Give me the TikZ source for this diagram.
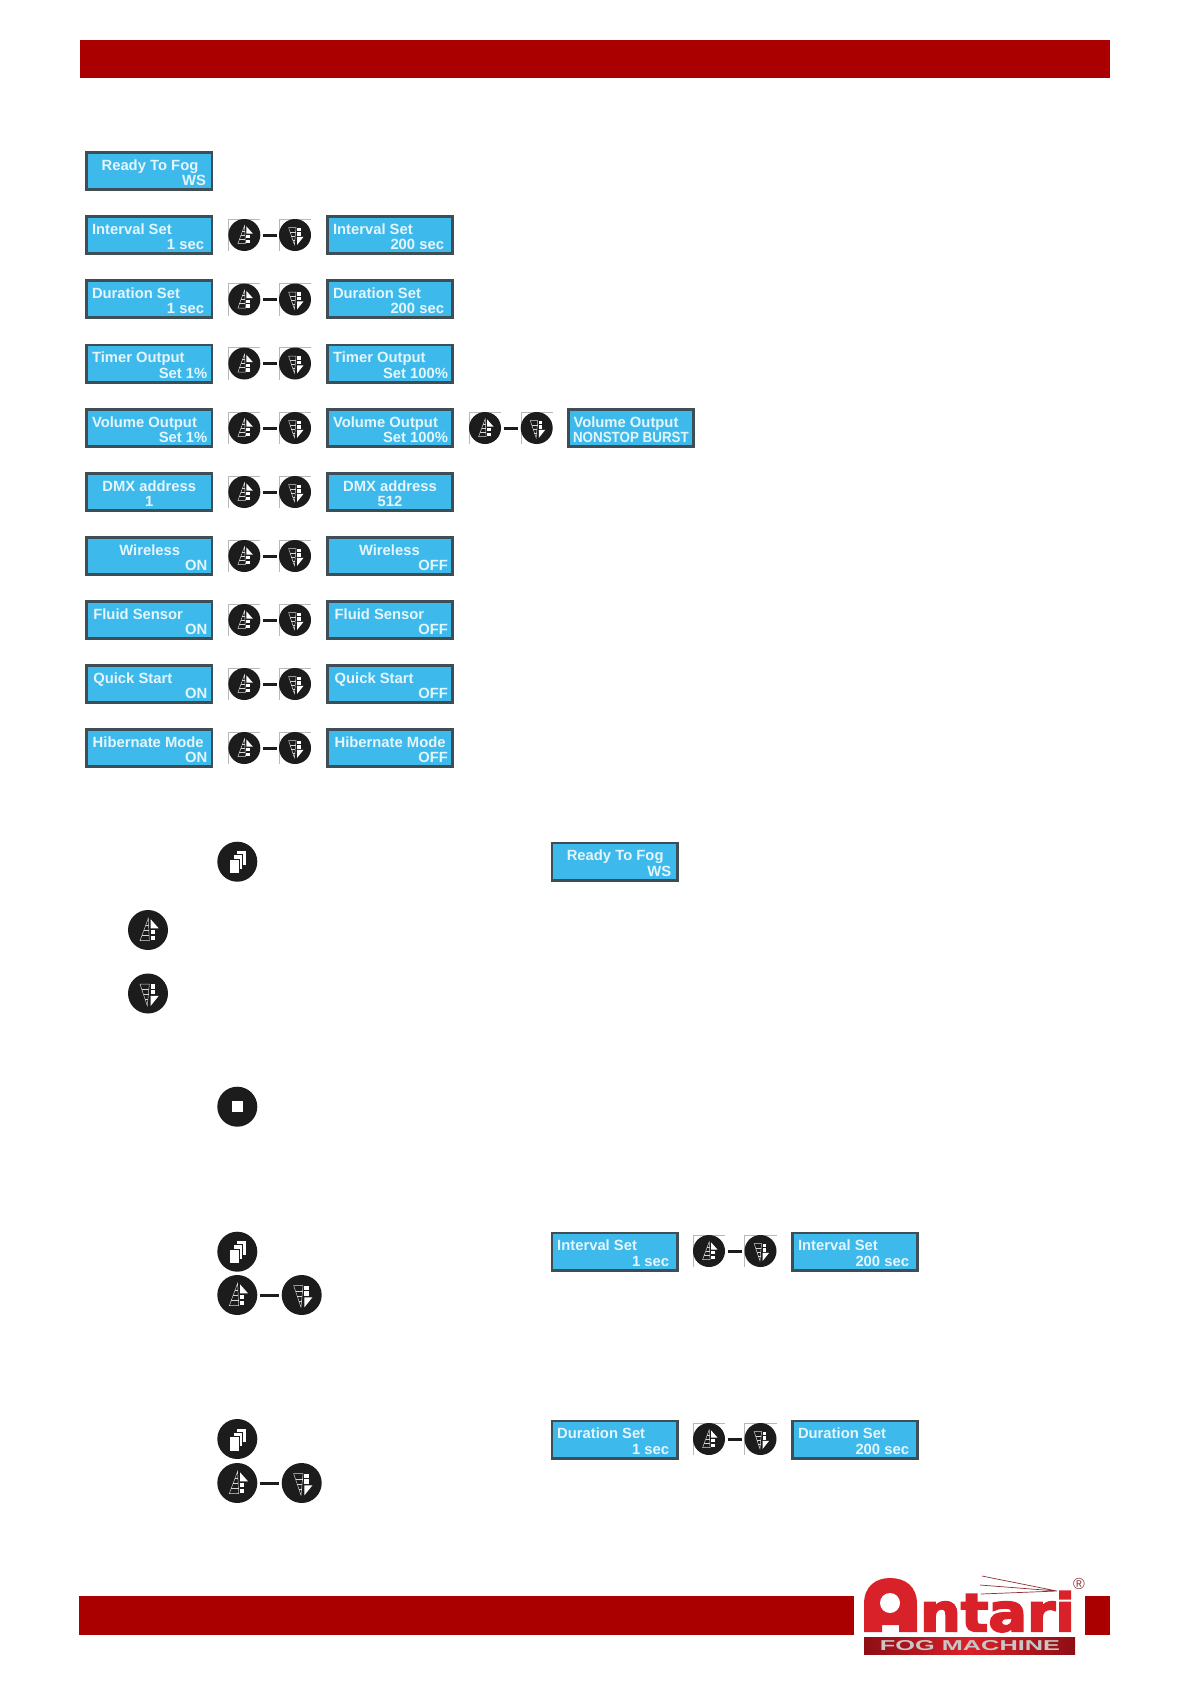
\documentclass[tikz,border=0pt]{standalone}
\usepackage{fontspec}
\setmainfont{Liberation Sans}
\newfontfamily\logofont[FakeBold=3.5]{DejaVu Sans}
\usetikzlibrary{calc}
\definecolor{barred}{HTML}{AA0000}
\definecolor{lcdblue}{HTML}{3DB9EC}
\definecolor{lcdedge}{HTML}{3F4D55}
\definecolor{lcdink}{HTML}{E4F5FC}
\definecolor{btnblack}{HTML}{1C1C1C}
\definecolor{logored}{HTML}{D9212A}
\definecolor{logodark}{HTML}{8E0D14}
\tikzset{
  lcdbox/.style={draw=lcdedge,fill=lcdblue,line width=2.6pt,minimum width=125.4pt,minimum height=37.4pt,inner sep=0pt,outer sep=1.3pt},
  lcdtxt/.style={inner sep=0pt,outer sep=0pt,text=lcdink,font=\fontsize{14.8}{15}\selectfont\bfseries},
  btn/.style={circle,fill=btnblack,inner sep=0pt,outer sep=0pt},
  ladder/.style={draw=white!85!black,line width=0.45pt},
  iconfill/.style={fill=white,draw=none},
  dashlink/.style={btnblack,line width=3pt,shorten <=2.5pt,shorten >=2.5pt},
  framelines/.style={draw=black!28,line width=0.4pt},
  sheet/.style={fill=white,draw=btnblack,line width=0.5pt},
}
% name, x, top, anchor1, offset1, text1, anchor2, offset2, text2
\newcommand{\lcd}[9]{%
  \node[lcdbox] (#1) at (#2+64,#3+20) {};
  \node[lcdtxt,anchor=#4] (#1a) at ([xshift=#5pt,yshift=-19pt]#1.north west) {#6};
  \node[lcdtxt,anchor=#7] (#1b) at ([xshift=#8pt,yshift=-34.6pt]#1.north west) {#9};
}
% name, x, y, radius
\newcommand{\upbtn}[4]{%
  \node[btn,minimum size=#4*2pt] (#1) at (#2,#3) {};
  \begin{scope}[shift={(#2,#3)},scale=#4/20]
    \draw[ladder] (0.3,-11.7) -- (-8,10.7) -- (1.3,10.7) -- cycle;
    \draw[ladder] (-2.4,-5) -- (0.8,-5) (-4.2,0) -- (1,0) (-6.2,5) -- (1.2,5);
    \fill[iconfill] (2.7,-10.7) -- (10.7,-1.7) -- (2.7,-1.7) -- cycle;
    \fill[iconfill] (2.7,0) rectangle (7,4.3);
    \fill[iconfill] (2.7,5.7) rectangle (7,10.3);
  \end{scope}
}
\newcommand{\downbtn}[4]{%
  \node[btn,minimum size=#4*2pt] (#1) at (#2,#3) {};
  \begin{scope}[shift={(#2,#3)},scale=#4/20]
    \draw[ladder] (-0.7,12.3) -- (-8,-9.3) -- (1.3,-9.3) -- cycle;
    \draw[ladder] (-6.2,-4) -- (1,-4) (-4.4,1) -- (0.6,1) (-2.8,6) -- (0.1,6);
    \fill[iconfill] (2.7,2.3) -- (10.7,2.3) -- (2.7,12.3) -- cycle;
    \fill[iconfill] (2.7,-9.3) rectangle (7,-4.7);
    \fill[iconfill] (2.7,-3.7) rectangle (7,0.7);
  \end{scope}
}
\newcommand{\docbtn}[3]{%
  \node[btn,minimum size=40pt] (#1) at (#2,#3) {};
  \begin{scope}[shift={(#2,#3)}]
    \draw[sheet] (-0.7,-11) rectangle (9,3.3);
    \draw[sheet] (-4.2,-7) rectangle (5.4,7.7);
    \draw[sheet] (-8.2,-2.8) rectangle (1.6,12);
  \end{scope}
}
\newcommand{\stopbtn}[3]{%
  \node[btn,minimum size=40pt] (#1) at (#2,#3) {};
  \fill[iconfill] (#2-5.5,#3-5.5) rectangle (#2+5.5,#3+5.5);
}
% small pair: name, x1, x2, y
\newcommand{\pair}[4]{%
  \draw[framelines] (#2-16,#4+16) -- (#2-16,#4-16) -- (#2+16,#4-16);
  \draw[framelines] (#3-16,#4+16) -- (#3-16,#4-16) -- (#3+16,#4-16);
  \upbtn{#1u}{#2}{#4}{16}
  \downbtn{#1d}{#3}{#4}{16}
  \draw[dashlink] (#1u) -- (#1d);
}
\begin{document}
\begin{tikzpicture}[x=1pt,y=-1pt]
\useasboundingbox[fill=white] (0,0) rectangle (1190,1684);
% bars
\fill[barred] (79.5,39.5) rectangle (1110,78);
\fill[barred] (78.5,1596) rectangle (854,1635);
\fill[barred] (1085,1596) rectangle (1110,1635);

% menu rows
\lcd{r1}{85.3}{151}{base west}{16.3}{Ready To Fog}{base east}{120.7}{WS}

\lcd{r2}{85.3}{215}{base west}{6.7}{Interval Set}{base east}{118.7}{1 sec}
\pair{p2}{244.3}{295}{235}
\lcd{s2}{326}{215}{base west}{7}{Interval Set}{base east}{118}{200 sec}

\lcd{r3}{85.3}{279}{base west}{6.7}{Duration Set}{base east}{118.7}{1 sec}
\pair{p3}{244.3}{295}{299.5}
\lcd{s3}{326}{279}{base west}{7}{Duration Set}{base east}{118}{200 sec}

\lcd{r4}{85.3}{343.5}{base west}{6.7}{Timer Output}{base east}{122}{Set 1\%}
\pair{p4}{244.3}{295}{363.5}
\lcd{s4}{326}{343.5}{base west}{7}{Timer Output}{base east}{122}{Set 100\%}

\lcd{r5}{85.3}{408}{base west}{6.7}{Volume Output}{base east}{122}{Set 1\%}
\pair{p5}{244.3}{295}{428}
\lcd{s5}{326}{408}{base west}{7}{Volume Output}{base east}{122}{Set 100\%}
\pair{q5}{485}{536.7}{428}
\lcd{t5}{567}{408}{base west}{6.5}{Volume Output}{base west}{6}{\scalebox{0.905}[1]{NONSTOP BURST}}

\lcd{r6}{85.3}{472}{base}{64}{DMX address}{base}{64}{1}
\pair{p6}{244.3}{295}{492}
\lcd{s6}{326}{472}{base}{64}{DMX address}{base}{64}{512}

\lcd{r7}{85.3}{536}{base west}{34}{Wireless}{base east}{122}{ON}
\pair{p7}{244.3}{295}{556}
\lcd{s7}{326}{536}{base west}{33}{Wireless}{base east}{122}{OFF}

\lcd{r8}{85.3}{600}{base west}{8}{Fluid Sensor}{base east}{122}{ON}
\pair{p8}{244.3}{295}{620}
\lcd{s8}{326}{600}{base west}{8.6}{Fluid Sensor}{base east}{122}{OFF}

\lcd{r9}{85.3}{664}{base west}{8}{Quick Start}{base east}{122}{ON}
\pair{p9}{244.3}{295}{684}
\lcd{s9}{326}{664}{base west}{8.6}{Quick Start}{base east}{122}{OFF}

\lcd{r10}{85.3}{728}{base west}{7.4}{Hibernate Mode}{base east}{122}{ON}
\pair{p10}{244.3}{295}{748}
\lcd{s10}{326}{728}{base west}{8.6}{Hibernate Mode}{base east}{122}{OFF}

% explanations
\docbtn{ka}{237.3}{861.7}
\lcd{la}{550.5}{841.5}{base west}{16.3}{Ready To Fog}{base east}{120.7}{WS}
\upbtn{kb}{148}{930}{20}
\downbtn{kc}{148}{993.5}{20}
\stopbtn{kd}{237.3}{1106.7}

\docbtn{ke}{237.3}{1251.7}
\upbtn{kfu}{237.3}{1295}{20}
\downbtn{kfd}{301.7}{1295}{20}
\draw[dashlink] (kfu) -- (kfd);
\lcd{lb}{550.5}{1231.5}{base west}{6.7}{Interval Set}{base east}{118.7}{1 sec}
\pair{pb}{709}{760.5}{1251}
\lcd{lc}{791}{1231.5}{base west}{7}{Interval Set}{base east}{118}{200 sec}

\docbtn{kg}{237.3}{1439}
\upbtn{khu}{237.3}{1483}{20}
\downbtn{khd}{301.7}{1483}{20}
\draw[dashlink] (khu) -- (khd);
\lcd{ld}{550.5}{1419.5}{base west}{6.7}{Duration Set}{base east}{118.7}{1 sec}
\pair{pd}{709}{760.5}{1439}
\lcd{le}{791}{1419.5}{base west}{7}{Duration Set}{base east}{118}{200 sec}

% logo
\draw[logodark!70!gray,line width=0.7pt] (1057,1591) -- (982,1576) (1057,1591) -- (980,1585) (1057,1591) -- (981,1594);
\fill[logored] (864,1632) -- (864,1604) .. controls (864,1586) and (876,1578) .. (890,1578)
  .. controls (905,1578) and (917,1586) .. (917,1604) -- (917,1632) -- (899,1632) -- (899,1625) -- (882,1625) -- (882,1632) -- cycle;
\fill[white] (890,1603) circle (10);
\node[inner sep=0pt,outer sep=0pt,anchor=south west,text=logored] (logoword) at (920,1632)
  {\resizebox{155pt}{40pt}{\logofont\bfseries ntari}};
\shade[left color=logodark,right color=logodark,middle color=logored] (864,1637) rectangle (1075,1654);
\node[inner sep=0pt,outer sep=0pt,text=black!22,anchor=center] (logoband) at (970,1645.5)
  {\resizebox{180pt}{10pt}{\bfseries FOG MACHINE}};
\node[inner sep=0pt,outer sep=0pt,text=logodark!60!gray,font=\fontsize{16}{16}\selectfont] (logoreg) at (1079,1584) {®};
\end{tikzpicture}
\end{document}
